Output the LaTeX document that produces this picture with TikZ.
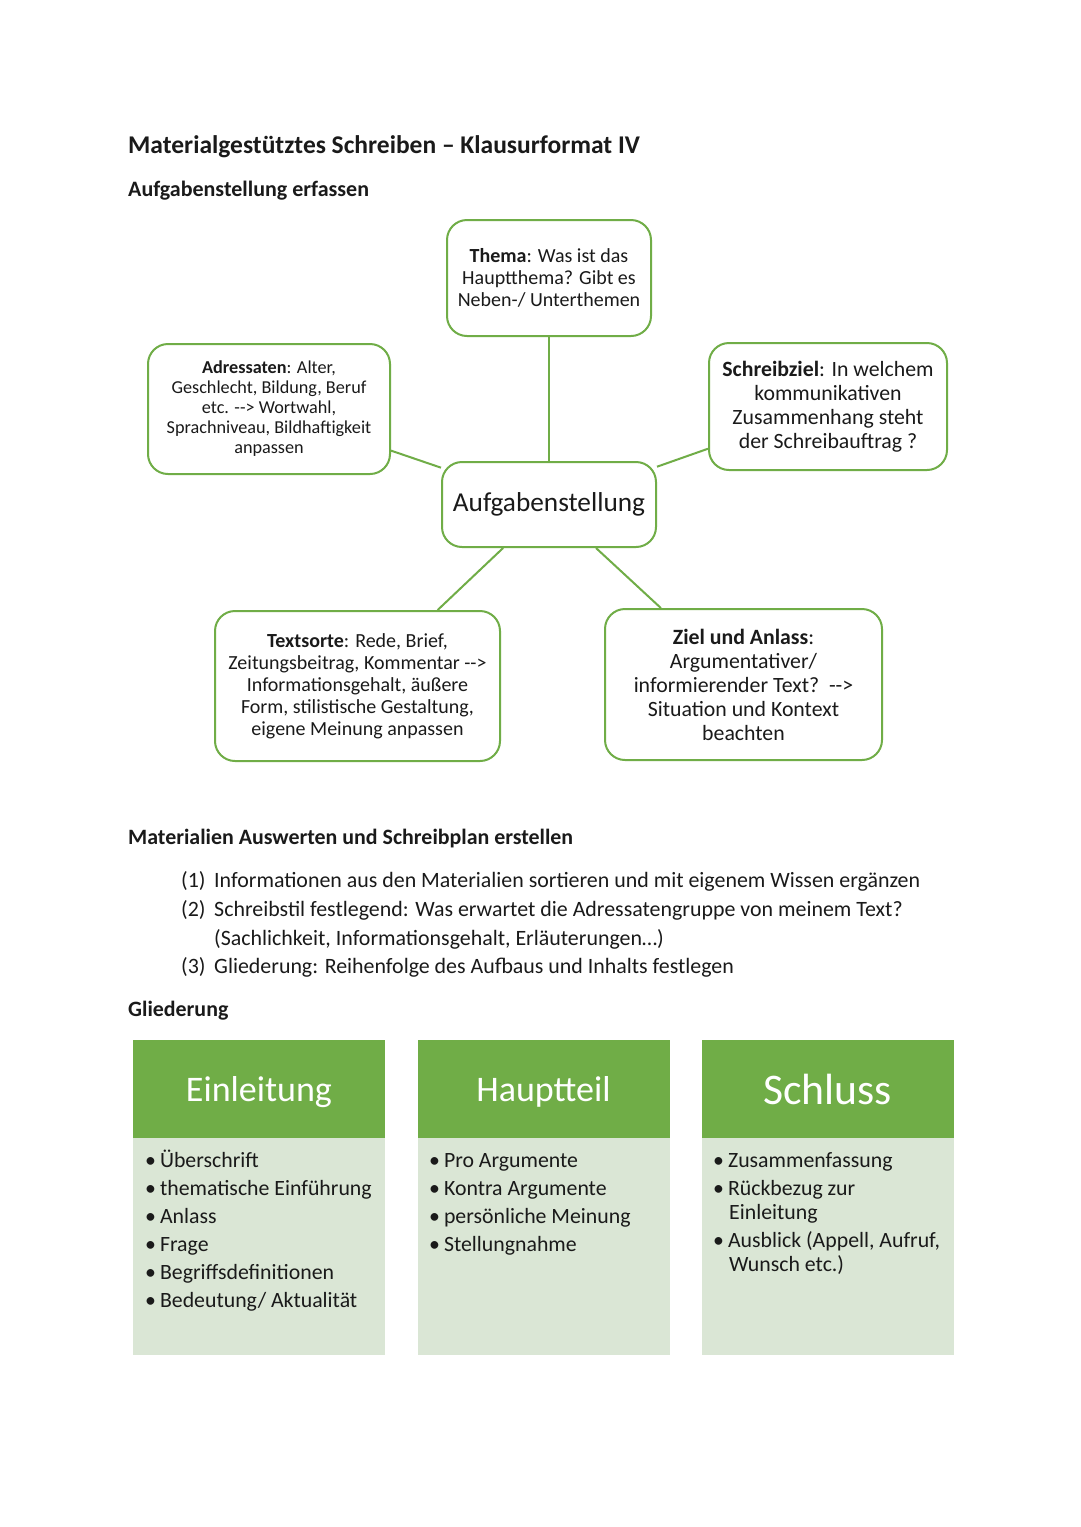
\documentclass[tikz,border=0pt]{standalone}
\usepackage{fontspec}
\setmainfont{Carlito}
\definecolor{grn}{HTML}{70AD47}
\definecolor{lgrn}{HTML}{DAE6D5}
\definecolor{ink}{HTML}{1A1A1A}
\newcommand{\fs}[2]{\fontsize{#1}{#2}\selectfont}
\newcommand{\arr}{{-}{-}>}
\begin{document}
\begin{tikzpicture}[x=1pt,y=-1pt,
  bubble/.style={draw=grn, line width=2pt, rounded corners=20pt, fill=white, align=center, inner sep=0pt, text=ink},
  link/.style={draw=grn, line width=2pt},
  heading/.style={anchor=base west, inner sep=0pt, text=ink, font=\bfseries},
  plain/.style={anchor=base west, inner sep=0pt, text=ink},
  colhead/.style={fill=grn, minimum width=252pt, minimum height=98pt, inner sep=0pt},
  coltitle/.style={inner sep=0pt, text=white},
  colbody/.style={fill=lgrn, minimum width=252pt, minimum height=217pt, inner sep=0pt},
  item/.style={anchor=base west, inner sep=0pt, text=ink, align=left, font=\fs{21.8}{24}}
]
\useasboundingbox (0,0) rectangle (1080,1527);
\fill[white] (0,0) rectangle (1080,1527);

% headings
\node[heading, font=\bfseries\fs{25.5}{28}] (title) at (128,153) {Materialgestütztes Schreiben – Klausurformat IV};
\node[heading, font=\bfseries\fs{22}{26}] (h1) at (128,196) {Aufgabenstellung erfassen};

% mind map
\node[bubble, minimum width=204pt, minimum height=116pt, font=\fs{20}{22}] (thema) at (549,278)
  {\textbf{Thema}: Was ist das\\Hauptthema? Gibt es\\Neben-/ Unterthemen};
\node[bubble, minimum width=242pt, minimum height=130pt, font=\fs{18.2}{20}] (adr) at (269,409)
  {\textbf{Adressaten}: Alter,\\Geschlecht, Bildung, Beruf\\etc. \arr{} Wortwahl,\\Sprachniveau, Bildhaftigkeit\\anpassen};
\node[bubble, minimum width=238pt, minimum height=127pt, font=\fs{21.8}{24}] (ziel) at (828,406.5)
  {\textbf{Schreibziel}: In welchem\\kommunikativen\\Zusammenhang steht\\der Schreibauftrag ?};
\node[bubble, minimum width=214pt, minimum height=85pt, font=\fs{27.3}{30}] (aufg) at (549,504.5)
  {Aufgabenstellung};
\node[bubble, minimum width=285pt, minimum height=150pt, font=\fs{20}{22}] (text) at (357.5,686)
  {\textbf{Textsorte}: Rede, Brief,\\Zeitungsbeitrag, Kommentar \arr\\Informationsgehalt, äußere\\Form, stilistische Gestaltung,\\eigene Meinung anpassen};
\node[bubble, minimum width=277pt, minimum height=151pt, font=\fs{21.8}{24}] (anl) at (743.5,684.5)
  {\textbf{Ziel und Anlass}:\\Argumentativer/\\informierender Text?~~\arr\\Situation und Kontext\\beachten};

\draw[link] (thema) -- (aufg);
\draw[link] (adr) -- (aufg);
\draw[link] (ziel) -- (aufg);
\draw[link] (aufg) -- (text);
\draw[link] (aufg) -- (anl);

% section 2
\node[heading, font=\bfseries\fs{21.9}{24}] (h2) at (128,844) {Materialien Auswerten und Schreibplan erstellen};
\node[plain, font=\fs{21.9}{24}] (n1) at (181,887) {(1)};
\node[plain, font=\fs{21.9}{24}] (t1) at (214,887) {Informationen aus den Materialien sortieren und mit eigenem Wissen ergänzen};
\node[plain, font=\fs{21.9}{24}] (n2) at (181,916) {(2)};
\node[plain, font=\fs{21.9}{24}] (t2) at (214,916) {Schreibstil festlegend: Was erwartet die Adressatengruppe von meinem Text?};
\node[plain, font=\fs{21.9}{24}] (t2b) at (214,945) {(Sachlichkeit, Informationsgehalt, Erläuterungen…)};
\node[plain, font=\fs{21.9}{24}] (n3) at (181,973) {(3)};
\node[plain, font=\fs{21.9}{24}] (t3) at (214,973) {Gliederung: Reihenfolge des Aufbaus und Inhalts festlegen};

\node[heading, font=\bfseries\fs{21.9}{24}] (h3) at (128,1016) {Gliederung};

% columns
\node[colbody] (b1) at (259,1246.5) {};
\node[colbody] (b2) at (543.5,1246.5) {};
\node[colbody] (b3) at (827.5,1246.5) {};
\node[colhead] (c1) at (259,1089) {};
\node[colhead] (c2) at (543.5,1089) {};
\node[colhead] (c3) at (827.5,1089) {};
\node[coltitle, font=\fs{36}{40}] (c1t) at ([yshift=-3pt]c1.center) {Einleitung};
\node[coltitle, font=\fs{36}{40}] (c2t) at ([yshift=-3pt]c2.center) {Hauptteil};
\node[coltitle, font=\fs{43.7}{46}] (c3t) at (c3.center) {Schluss};

\foreach \t [count=\i from 0] in {Überschrift, thematische Einführung, Anlass, Frage, Begriffsdefinitionen, Bedeutung/ Aktualität}{
  \node[item] (e\i) at (145,1167+28*\i) {•\hspace{4pt}\t};
}
\foreach \t [count=\i from 0] in {Pro Argumente, Kontra Argumente, persönliche Meinung, Stellungnahme}{
  \node[item] (p\i) at (429,1167+28*\i) {•\hspace{4pt}\t};
}
\node[item] (s0) at (713,1167) {•\hspace{4pt}Zusammenfassung};
\node[item] (s1) at (713,1195) {•\hspace{4pt}Rückbezug zur};
\node[item] (s1b) at (729,1219) {Einleitung};
\node[item] (s2) at (713,1247) {•\hspace{4pt}Ausblick (Appell, Aufruf,};
\node[item] (s2b) at (729,1271) {Wunsch etc.)};
\end{tikzpicture}
\end{document}
